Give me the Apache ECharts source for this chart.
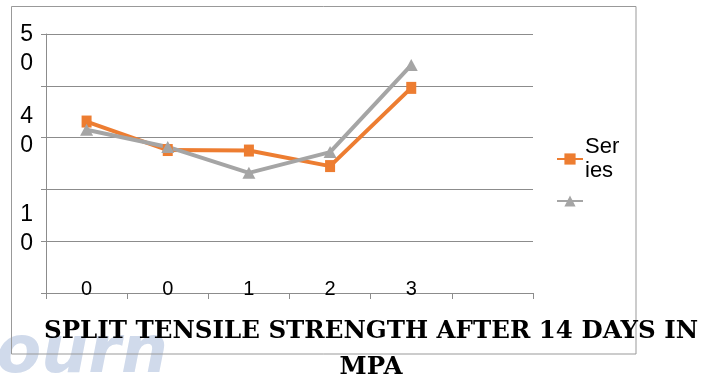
<!DOCTYPE html>
<html>
<head>
<meta charset="utf-8">
<script src="https://cdn.jsdelivr.net/npm/echarts@6/dist/echarts.min.js"></script>
<style>html,body{margin:0;padding:0;background:#fff;}#c{width:709px;height:380px;}</style>
</head>
<body>
<div id="c"></div>
<script>
const categories = ['0', '0', '1', '2', '3', ''];
const series1 = [33.1, 27.6, 27.5, 24.5, 39.6];
const series2 = [31.5, 28.2, 23.2, 27.2, 44.0];
const seriesNames = ['Series1', 'Series2'];
const yTickValues = [50, 30, 10];
const yTickLabels = ['5\n0', '4\n0', '1\n0'];
const titleText = 'SPLIT TENSILE STRENGTH AFTER 14 DAYS IN\nMPA';

const yPad = {50: ['p27', 'top'], 30: ['p12', 'bottom'], 10: ['p25', 'bottom']};

const chart = echarts.init(document.getElementById('c'), null, {renderer: 'canvas'});
const grey = '#8c8c8c';
chart.setOption({
  animation: false,
  backgroundColor: '#fff',
  graphic: [
    {type: 'text', z: -10, left: -4, top: 322, style: {text: 'ourn', fontSize: 66, fontWeight: 'bold', fontStyle: 'italic', fontFamily: 'DejaVu Sans', fill: '#d0daeb'}},
    {type: 'rect', z: 5, shape: {x: 11.5, y: 6.5, width: 624.5, height: 347.5}, style: {fill: 'none', stroke: '#999', lineWidth: 1}}
  ],
  title: {
    text: titleText,
    left: 366, top: 309, textAlign: 'center',
    textStyle: {fontFamily: 'DejaVu Serif', fontWeight: 'bold', fontSize: 24.5, lineHeight: 36, color: '#000'}
  },
  grid: {left: 46, right: 176, top: 34, bottom: 87, containLabel: false},
  legend: {
    orient: 'vertical', left: 551, top: 130, itemWidth: 26, itemHeight: 14, itemGap: 6,
    data: seriesNames,
    formatter: n => n === seriesNames[0] ? 'Ser\nies' : ' ',
    textStyle: {fontFamily: 'Liberation Sans', fontSize: 22, lineHeight: 24, color: '#000', padding: [0, 0, 0, -3]}
  },
  xAxis: {
    type: 'category', data: categories, boundaryGap: true,
    axisLine: {lineStyle: {color: grey, width: 1}},
    axisTick: {show: true, length: 6, lineStyle: {color: grey}},
    axisLabel: {margin: -14, fontFamily: 'Liberation Sans', fontSize: 20, color: '#000', interval: 0}
  },
  yAxis: {
    type: 'value', min: 0, max: 50, interval: 10,
    axisLine: {show: true, lineStyle: {color: grey, width: 1}},
    axisTick: {show: true, length: 5, lineStyle: {color: grey}},
    splitLine: {lineStyle: {color: grey, width: 1}},
    axisLabel: {
      margin: 13, align: 'right',
      formatter: v => {
        const i = yTickValues.indexOf(v);
        if (i < 0) return '';
        const body = yTickLabels[i].split('\n').map(s => '{a|' + s + '}').join('\n');
        const p = yPad[v];
        return p[1] === 'top' ? '{' + p[0] + '| }\n' + body : body + '\n{' + p[0] + '| }';
      },
      rich: {
        a: {fontFamily: 'Liberation Sans', fontSize: 23, lineHeight: 29, color: '#000'},
        p27: {fontSize: 1, lineHeight: 30},
        p12: {fontSize: 1, lineHeight: 12},
        p25: {fontSize: 1, lineHeight: 25}
      }
    }
  },
  series: [
    {name: seriesNames[0], type: 'line', data: series1, symbol: 'rect', symbolSize: [10, 12],
     lineStyle: {color: '#ED7D31', width: 4}, itemStyle: {color: '#ED7D31'}},
    {name: seriesNames[1], type: 'line', data: series2, symbol: 'triangle', symbolSize: [13, 12],
     lineStyle: {color: '#A5A5A5', width: 4}, itemStyle: {color: '#A5A5A5'}}
  ]
});
</script>
</body>
</html>
